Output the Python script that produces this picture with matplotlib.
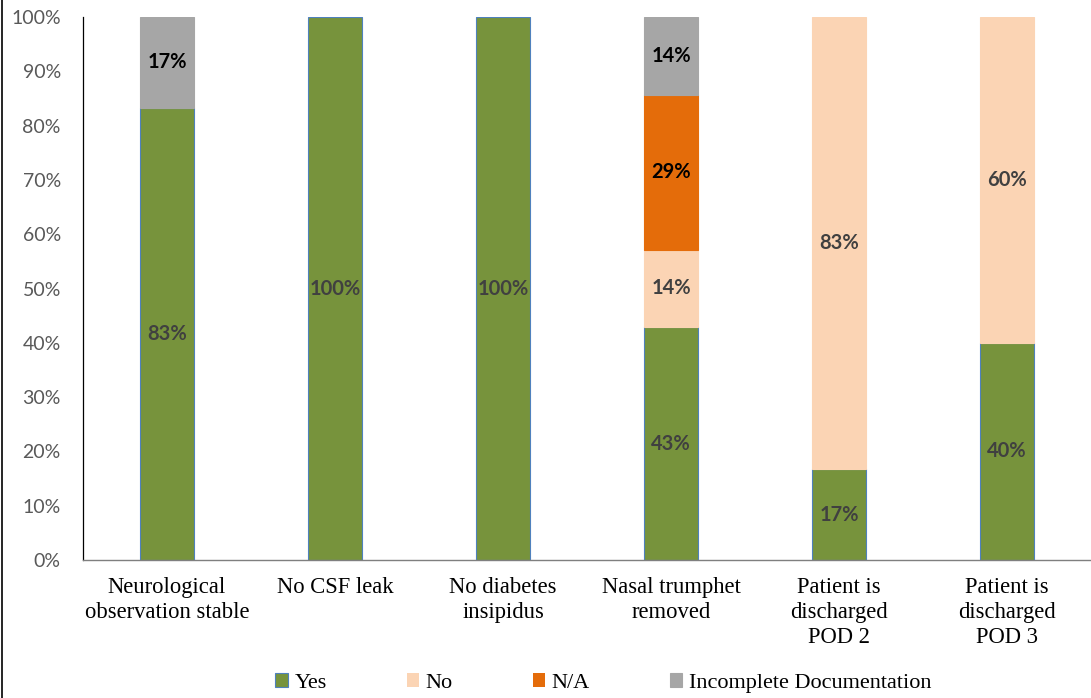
import numpy as np
import matplotlib
matplotlib.use("Agg")
import matplotlib.pyplot as plt
from matplotlib.lines import Line2D

categories = ["Neurological\nobservation stable", "No CSF leak", "No diabetes\ninsipidus",
              "Nasal trumphet\nremoved", "Patient is\ndischarged\nPOD 2", "Patient is\ndischarged\nPOD 3"]
yes = [83.33, 100, 100, 42.86, 16.67, 40]
no = [0, 0, 0, 14.29, 83.33, 60]
na = [0, 0, 0, 28.57, 0, 0]
incomplete = [16.67, 0, 0, 14.29, 0, 0]

series = [
    ("Yes", yes, "#77933C", "#404040"),
    ("No", no, "#FBD4B4", "#404040"),
    ("N/A", na, "#E46C0A", "#000000"),
    ("Incomplete Documentation", incomplete, "#A6A6A6", "#000000"),
]

fig = plt.figure(figsize=(10.91, 6.98), dpi=100)
ax = fig.add_axes([0.0761, 0.1977, 0.9239, 0.7779])

x = np.arange(len(categories))
bottom = np.zeros(len(categories))
for name, vals, color, lab_color in series:
    vals = np.array(vals, dtype=float)
    edge = "#4F81BD" if name == "Yes" else color
    lws = [0.8 if v > 0 else 0 for v in vals]
    ax.bar(x, vals, 0.32, bottom=bottom, color=color, edgecolor=edge, linewidth=lws, label=name)
    for xi, b, v in zip(x, bottom, vals):
        if v > 0:
            ax.text(xi, b + v / 2, f"{v:.0f}%", ha="center", va="center", fontsize=14.5,
                    fontweight="bold", color=lab_color, family="Lato")
    bottom += vals

ax.set_xlim(-0.5, len(categories) - 0.5)
ax.set_ylim(0, 100)
ax.set_yticks(np.arange(0, 101, 10))
ax.set_yticklabels([f"{t}%" for t in range(0, 101, 10)], family="Lato", fontsize=14, color="#595959")
ax.set_xticks(x)
ax.set_xticklabels(categories, family="Liberation Serif", fontsize=16.3, color="black", linespacing=1.25)
ax.tick_params(axis="both", length=0)
ax.tick_params(axis="y", pad=16)
ax.tick_params(axis="x", pad=12)
for s in ["top", "right"]:
    ax.spines[s].set_visible(False)
ax.spines["left"].set_color("#000000")
ax.spines["left"].set_linewidth(0.9)
ax.spines["bottom"].set_color("#7F7F7F")
ax.spines["bottom"].set_linewidth(1.0)

leg = fig.legend(loc="center", bbox_to_anchor=(0.553, 0.0215), ncol=4, frameon=False,
                 prop={"family": "Liberation Serif", "size": 16}, handlelength=0.55,
                 handleheight=0.55, handletextpad=0.3, columnspacing=3.6)

fig.add_artist(Line2D([0.002, 0.002], [0, 1], transform=fig.transFigure, color="black", linewidth=1.2))

fig.savefig("out.png", dpi=100)
